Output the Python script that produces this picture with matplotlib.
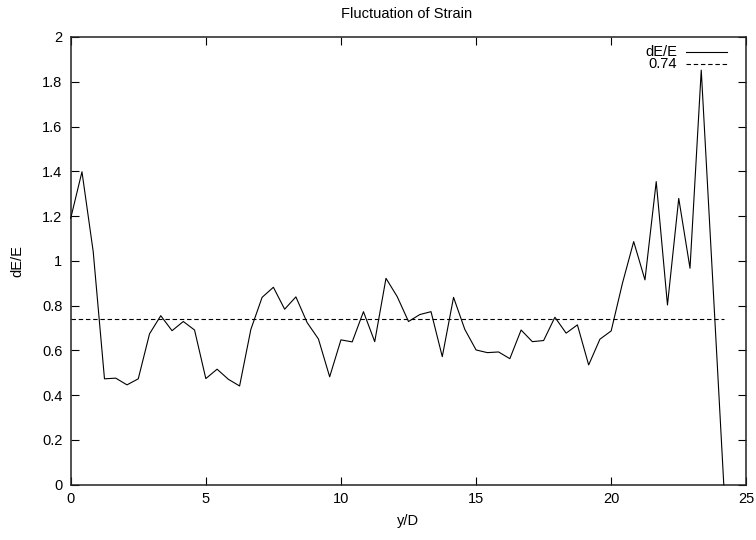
"""Fluctuation of strain along y/D, with the mean level drawn as a dashed line."""

import matplotlib
matplotlib.use("Agg")
import matplotlib.pyplot as plt
from matplotlib.ticker import FormatStrFormatter, MultipleLocator

# data (step in y/D is 5/12)
y_over_d = [
    0.0, 0.417, 0.833, 1.25, 1.667, 2.083, 2.5, 2.917, 3.333, 3.75,
    4.167, 4.583, 5.0, 5.417, 5.833, 6.25, 6.667, 7.083, 7.5, 7.917,
    8.333, 8.75, 9.167, 9.583, 10.0, 10.417, 10.833, 11.25, 11.667, 12.083,
    12.5, 12.917, 13.333, 13.75, 14.167, 14.583, 15.0, 15.417, 15.833, 16.25,
    16.667, 17.083, 17.5, 17.917, 18.333, 18.75, 19.167, 19.583, 20.0, 20.417,
    20.833, 21.25, 21.667, 22.083, 22.5, 22.917, 23.333, 23.75, 24.167,
]
de_over_e = [
    1.19, 1.398, 1.041, 0.473, 0.476, 0.446, 0.473, 0.674, 0.755, 0.688,
    0.729, 0.691, 0.474, 0.516, 0.471, 0.441, 0.694, 0.837, 0.882, 0.784,
    0.839, 0.724, 0.651, 0.482, 0.647, 0.638, 0.773, 0.639, 0.922, 0.840,
    0.729, 0.760, 0.773, 0.572, 0.837, 0.694, 0.602, 0.590, 0.593, 0.563,
    0.691, 0.639, 0.644, 0.748, 0.677, 0.714, 0.535, 0.650, 0.687, 0.900,
    1.086, 0.915, 1.354, 0.803, 1.279, 0.967, 1.852, 0.93, 0.0,
]
mean_level = 0.74
series_label = "dE/E"
mean_label = "0.74"

plt.rcParams["font.family"] = ["Liberation Sans", "DejaVu Sans"]
plt.rcParams["font.size"] = 10.5
plt.rcParams["lines.scale_dashes"] = False

W, H = 756, 540
fig = plt.figure(figsize=(W / 100, H / 100), dpi=100)
# axes box in pixels: left 70.7, right 746.3, top 37, bottom 484.7
ax = fig.add_axes([70.7 / W, 1 - 484.7 / H, (746.3 - 70.7) / W, (484.7 - 37) / H])

ax.plot(y_over_d, de_over_e, color="black", lw=0.8, clip_on=False, zorder=3)
ax.plot([y_over_d[0], y_over_d[-1]], [mean_level, mean_level],
        color="black", lw=0.8, dashes=(3.2, 2.0), zorder=3)

ax.set_xlim(0, 25)
ax.set_ylim(0, 2)
ax.xaxis.set_major_locator(MultipleLocator(5))
ax.yaxis.set_major_locator(MultipleLocator(0.2))
ax.yaxis.set_major_formatter(FormatStrFormatter("%g"))
ax.tick_params(direction="in", length=5.5, width=0.8, top=True, right=True,
               labelsize=10.5, pad=6)
ax.tick_params(axis="x", pad=5)
for sp in ax.spines.values():
    sp.set_linewidth(1.1)
    sp.set_color("#222222")

ax.set_xlabel("y/D", labelpad=6)
ax.set_ylabel("dE/E", labelpad=13)
fig.text(407 / W, 1 - 13.5 / H, "Fluctuation of Strain", ha="center", va="center",
         fontsize=10.5)

# gnuplot-style key: right-aligned text, then the line sample
key_rows = [(series_label, None, 51.7), (mean_label, (3.2, 2.0), 64.3)]
for text, dash, ypix in key_rows:
    yf = 1 - ypix / H
    fig.text(677 / W, yf, text, ha="right", va="center", fontsize=10.5)
    kw = {"dashes": dash} if dash else {}
    fig.add_artist(plt.Line2D([685.7 / W, 727.3 / W], [yf, yf], color="black",
                              lw=0.8, transform=fig.transFigure, **kw))

fig.savefig("out.png", dpi=100)
